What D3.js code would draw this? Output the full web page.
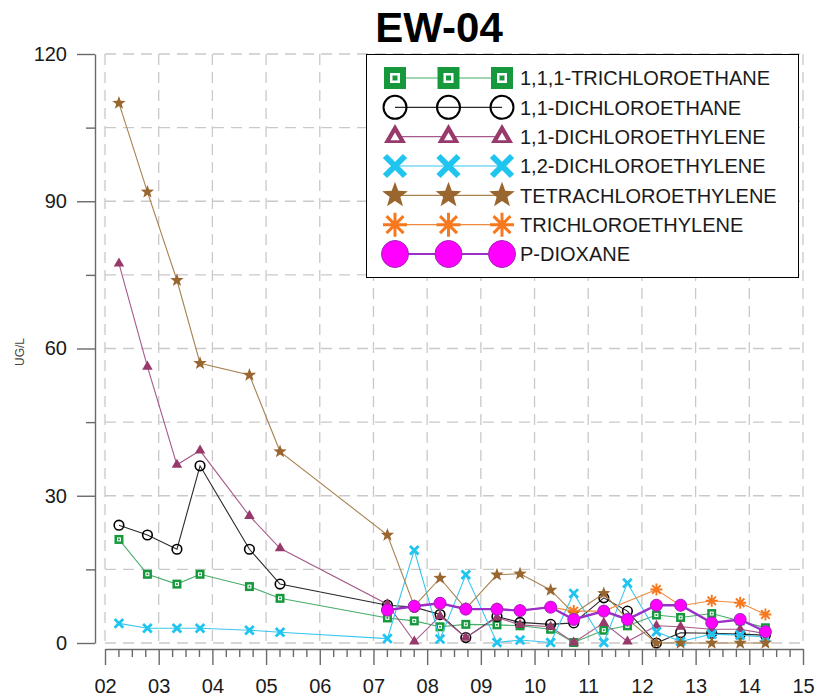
<!DOCTYPE html>
<html><head><meta charset="utf-8">
<script src="https://cdn.jsdelivr.net/npm/d3@7"></script>
<style>body{margin:0;background:#fff;}svg{display:block;font-family:"Liberation Sans",Arial,sans-serif;}</style>
</head><body>
<svg id="chart" width="818" height="700"></svg>
<script>
const chartTitle = "EW-04";
const yAxisLabel = "UG/L";
const dates = [2002.26, 2002.79, 2003.34, 2003.77, 2004.69, 2005.26, 2007.26, 2007.76, 2008.24, 2008.72, 2009.30, 2009.73, 2010.30, 2010.73, 2011.29, 2011.73, 2012.27, 2012.72, 2013.30, 2013.83, 2014.30];
const seriesNames = ["1,1,1-TRICHLOROETHANE", "1,1-DICHLOROETHANE", "1,1-DICHLOROETHYLENE", "1,2-DICHLOROETHYLENE", "TETRACHLOROETHYLENE", "TRICHLOROETHYLENE", "P-DIOXANE"];
const tca    = [21.1, 14.0, 12.0, 14.0, 11.5, 9.1, 5.1, 4.5, 3.3, 3.8, 3.7, 3.5, 2.8, 0.1, 2.6, 3.5, 5.7, 5.2, 6.0, 4.5, 3.1];
const dca    = [24.0, 22.0, 19.1, 36.1, 19.1, 12.0, 7.7, 7.3, 5.8, 1.1, 5.4, 4.2, 3.8, 4.1, 9.2, 6.5, 0.0, 2.1, 2.0, 1.8, 1.6];
const dce11  = [77.3, 56.3, 36.3, 39.2, 25.9, 19.3, 7.9, 0.3, 5.5, 1.1, 5.2, 3.7, 3.3, 0.1, 4.1, 0.3, 3.5, 3.3, 2.8, 2.8, 1.9];
const dce12  = [4.0, 3.0, 3.0, 3.0, 2.6, 2.2, 0.9, 18.9, 0.8, 13.9, 0.1, 0.6, 0.1, 10.1, 0.1, 12.2, 2.3, 0.3, 1.8, 1.6, 1.2];
const pce    = [110.0, 91.9, 73.9, 57.0, 54.6, 39.0, 22.0, 7.5, 13.2, 7.0, 13.9, 14.1, 10.8, 6.0, 10.1, 4.8, 0.0, 0.0, 0.0, 0.0, 0.0];
const tce    = [null, null, null, null, null, null, 6.6, 7.5, 8.0, 7.0, 7.0, 6.6, 7.3, 6.5, 6.5, null, 10.9, 7.6, 8.6, 8.2, 5.8];
const dioxane= [null, null, null, null, null, null, 6.7, 7.5, 8.1, 6.9, 6.9, 6.6, 7.3, 4.8, 6.5, 4.8, 7.7, 7.7, 4.1, 4.8, 2.3];
const yMajorTicks = [0, 30, 60, 90, 120];
const yMinorTicks = [15, 45, 75, 105];
const xYears = [2002, 2003, 2004, 2005, 2006, 2007, 2008, 2009, 2010, 2011, 2012, 2013, 2014, 2015];
const xTickLabels = ["02","03","04","05","06","07","08","09","10","11","12","13","14","15"];

const svg = d3.select("#chart");
const x = d3.scaleLinear().domain([2002, 2015]).range([105, 803]);
const y = d3.scaleLinear().domain([0, 120]).range([643, 54]);

// gridlines
const grid = svg.append("g").attr("stroke", "#c9c9c9").attr("stroke-width", 1.3).attr("stroke-dasharray", "11,7");
grid.selectAll("line.h").data(yMajorTicks.concat(yMinorTicks)).join("line")
  .attr("x1", x(2002)).attr("x2", x(2015)).attr("y1", d => y(d)).attr("y2", d => y(d));
grid.selectAll("line.v").data(xYears).join("line")
  .attr("x1", d => x(d)).attr("x2", d => x(d)).attr("y1", y(120)).attr("y2", y(0));

// y axis
const yAxisG = svg.append("g").attr("transform", "translate(95,0)")
  .call(d3.axisLeft(y).tickValues(yMajorTicks).tickSize(18).tickSizeOuter(0).tickPadding(10));
const yMinorG = svg.append("g").attr("transform", "translate(95,0)")
  .call(d3.axisLeft(y).tickValues(yMinorTicks).tickSize(9).tickSizeOuter(0).tickFormat(""));
yMinorG.select(".domain").remove();
[yAxisG, yMinorG].forEach(g => {
  g.selectAll("path,line").attr("stroke", "#6a6a6a").attr("stroke-width", 1.4);
});
yAxisG.selectAll("text").attr("font-size", 20).attr("fill", "#1a1a1a").attr("font-family", "Liberation Sans, Arial, sans-serif");

// x axis
const xAxisG = svg.append("g").attr("transform", "translate(0,649)")
  .call(d3.axisBottom(x).tickValues(xYears).tickSize(16).tickSizeOuter(0).tickPadding(14)
    .tickFormat((d, i) => xTickLabels[i]));
const quarters = d3.range(2002, 2015.01, 0.25).filter(v => Math.abs(v - Math.round(v)) > 0.01);
const xMinorG = svg.append("g").attr("transform", "translate(0,649)")
  .call(d3.axisBottom(x).tickValues(quarters).tickSize(8).tickSizeOuter(0).tickFormat(""));
xMinorG.select(".domain").remove();
[xAxisG, xMinorG].forEach(g => {
  g.selectAll("path,line").attr("stroke", "#6a6a6a").attr("stroke-width", 1.4);
});
xAxisG.selectAll("text").attr("font-size", 20).attr("fill", "#1a1a1a").attr("font-family", "Liberation Sans, Arial, sans-serif");

// y label
svg.append("text").attr("transform", "translate(24,352) rotate(-90)")
  .attr("text-anchor", "middle").attr("font-size", 12).attr("fill", "#444").text(yAxisLabel);

// title
svg.append("text").attr("x", 439).attr("y", 42).attr("text-anchor", "middle")
  .attr("font-size", 42).attr("font-weight", "bold").attr("fill", "#000").text(chartTitle);

// markers
function starPath(R, r) {
  let p = "";
  for (let i = 0; i < 10; i++) {
    const a = -Math.PI / 2 + i * Math.PI / 5;
    const rad = i % 2 === 0 ? R : r;
    p += (i === 0 ? "M" : "L") + (rad * Math.cos(a)).toFixed(2) + "," + (rad * Math.sin(a)).toFixed(2);
  }
  return p + "Z";
}
function triPath(s) {
  const h = s * Math.sqrt(3) / 2;
  return `M0,${-h * 2 / 3}L${s / 2},${h / 3}L${-s / 2},${h / 3}Z`;
}
const markers = {
  square: (g, big) => {
    const o = big ? 22 : 9, w = big ? 10 : 4, c = big ? 5 : 1.8;
    g.append("rect").attr("x", -o / 2).attr("y", -o / 2).attr("width", o).attr("height", o).attr("fill", "#16993d");
    g.append("rect").attr("x", -w / 2).attr("y", -w / 2).attr("width", w).attr("height", w).attr("fill", "#fff");
    g.append("rect").attr("x", -c / 2).attr("y", -c / 2).attr("width", c).attr("height", c).attr("fill", "#16993d");
  },
  circle: (g, big) => {
    g.append("circle").attr("r", big ? 11.5 : 4.8).attr("fill", "none").attr("stroke", "#000").attr("stroke-width", big ? 2 : 1.6);
  },
  triangle: (g, big) => {
    g.append("path").attr("d", triPath(big ? 22 : 10.5)).attr("fill", "#973a6b");
    if (big) g.append("path").attr("d", triPath(9)).attr("fill", "#fff").attr("transform", "translate(0,1)");
  },
  cross: (g, big) => {
    const s = big ? 10 : 4.3;
    g.append("path").attr("d", `M${-s},${-s}L${s},${s}M${-s},${s}L${s},${-s}`)
      .attr("stroke", "#1fc5ef").attr("stroke-width", big ? 6 : 2.8).attr("fill", "none");
  },
  star: (g, big) => {
    g.append("path").attr("d", big ? starPath(13.5, 5.6) : starPath(7, 2.9)).attr("fill", "#98662e");
  },
  asterisk: (g, big) => {
    const s = big ? 12 : 6;
    let p = "";
    for (let i = 0; i < 4; i++) {
      const a = i * Math.PI / 4;
      p += `M${(-s * Math.cos(a)).toFixed(2)},${(-s * Math.sin(a)).toFixed(2)}L${(s * Math.cos(a)).toFixed(2)},${(s * Math.sin(a)).toFixed(2)}`;
    }
    g.append("path").attr("d", p).attr("stroke", "#f7781d").attr("stroke-width", big ? 3 : 1.9).attr("fill", "none");
  },
  dot: (g, big) => {
    g.append("circle").attr("r", big ? 13.5 : 6).attr("fill", "#ff00ff").attr("stroke", "#a024b8").attr("stroke-width", 1);
  }
};

const seriesValues = [tca, dca, dce11, dce12, pce, tce, dioxane];
const seriesMarkers = ["square", "circle", "triangle", "cross", "star", "asterisk", "dot"];
const lineColors = ["#46ad68", "#2a2a2a", "#a5598a", "#3bc6ee", "#a8824f", "#f08a3e", "#9a2fc9"];
const lineWidths = [1.1, 1.1, 1.1, 1.1, 1.1, 1.1, 2.4];

const line = d3.line().x(d => x(d.t)).y(d => y(d.v));
seriesValues.forEach((vals, si) => {
  const pts = dates.map((t, i) => ({ t, v: vals[i] })).filter(d => d.v !== null);
  const g = svg.append("g");
  g.append("path").datum(pts).attr("d", line).attr("fill", "none")
    .attr("stroke", lineColors[si]).attr("stroke-width", lineWidths[si]);
  pts.forEach(d => {
    const mg = g.append("g").attr("transform", `translate(${x(d.t)},${y(d.v)})`);
    markers[seriesMarkers[si]](mg, false);
  });
});

// legend
const lg = svg.append("g");
lg.append("rect").attr("x", 366.5).attr("y", 54.5).attr("width", 432).attr("height", 223)
  .attr("fill", "#fff").attr("stroke", "#000").attr("stroke-width", 1);
const rowY = d3.scaleLinear().domain([0, 6]).range([78, 254]);
seriesNames.forEach((name, i) => {
  const yy = rowY(i);
  lg.append("line").attr("x1", 395).attr("x2", 502).attr("y1", yy).attr("y2", yy)
    .attr("stroke", lineColors[i]).attr("stroke-width", i === 6 ? 2 : 1.2);
  [395, 448.5, 502].forEach(mx => {
    const mg = lg.append("g").attr("transform", `translate(${mx},${yy})`);
    markers[seriesMarkers[i]](mg, true);
  });
  lg.append("text").attr("x", 520).attr("y", yy).attr("dy", "0.36em")
    .attr("font-size", 20).attr("fill", "#1a1a1a").text(name);
});
</script>
</body></html>
